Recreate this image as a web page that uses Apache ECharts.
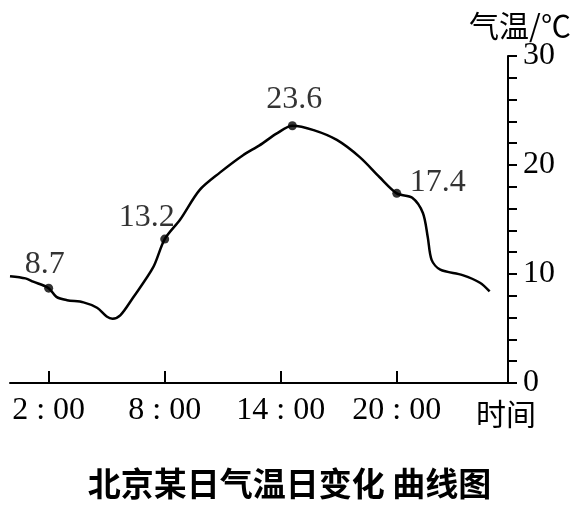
<!DOCTYPE html>
<html>
<head>
<meta charset="utf-8">
<script src="https://cdn.jsdelivr.net/npm/echarts@6/dist/echarts.min.js"></script>
<style>html,body{margin:0;padding:0;background:#fff;}#c{width:579px;height:505px;}</style>
</head>
<body>
<div id="c"></div>
<script>
// Curve trace (hour of day, temperature °C)
var curveHours = [0, 0.8, 1.2, 2, 2.4, 2.95, 3.8, 4.5, 5.0, 5.3, 5.7, 6.35, 7.4, 8, 8.8, 9.8, 10.85, 12.05, 12.9, 13.8, 14.6, 15.7, 16.9, 18.1, 19.1, 20, 20.8, 21.35, 21.6, 21.8, 22.25, 23.4, 24.3, 24.8];
var curveTemps = [9.8, 9.6, 9.3, 8.7, 7.9, 7.6, 7.4, 6.9, 6.1, 5.9, 6.2, 7.8, 10.6, 13.2, 15.0, 17.7, 19.3, 20.9, 21.8, 22.9, 23.6, 23.2, 22.3, 20.7, 18.9, 17.4, 17.0, 15.6, 13.4, 11.3, 10.4, 9.9, 9.2, 8.4];
// Labelled points
var markHours = [2, 8, 14.6, 20];
var markTemps = [8.7, 13.2, 23.6, 17.4];
// Axis ticks
var tickHours = [2, 8, 14, 20];
var tickLabels = ['2:00', '8:00', '14:00', '20:00'];
var tempTicks = [0, 10, 20, 30];

var labelOffsets = [[-4, -24], [-18, -22], [2, -26], [41, -11]];

var curveData = curveHours.map(function (h, i) { return [h, curveTemps[i]]; });
var markData = markHours.map(function (h, i) {
  return { value: [h, markTemps[i]], label: { offset: labelOffsets[i] } };
});

var serif = 'Liberation Serif, Times New Roman, serif';
var cjk = 'Noto Sans CJK SC, sans-serif';

var chart = echarts.init(document.getElementById('c'), null, { renderer: 'canvas' });
chart.setOption({
  animation: false,
  backgroundColor: '#fff',
  title: {
    text: '北京某日气温日变化 曲线图',
    left: 'center',
    top: 462,
    textStyle: { fontFamily: cjk, fontSize: 33, fontWeight: 'bold', color: '#000' }
  },
  grid: { left: 10, right: 71, top: 56, bottom: 122, containLabel: false, outerBoundsMode: 'none' },
  xAxis: {
    type: 'value',
    min: 0,
    max: 25.75,
    name: '时间',
    nameLocation: 'end',
    nameGap: -2,
    nameTextStyle: { fontFamily: cjk, fontSize: 30, color: '#000', align: 'center', verticalAlign: 'top', padding: [16, 0, 0, 0] },
    axisLine: { show: true, onZero: false, lineStyle: { color: '#000', width: 2 } },
    axisTick: { show: true, inside: true, length: 12, customValues: tickHours, lineStyle: { color: '#000', width: 2 } },
    axisLabel: {
      show: true,
      customValues: tickHours,
      margin: 12,
      fontFamily: serif,
      fontSize: 32,
      color: '#000',
      formatter: function (v) {
        var i = tickHours.indexOf(v);
        return i >= 0 ? tickLabels[i].replace(':', ' : ') : '';
      }
    },
    splitLine: { show: false }
  },
  yAxis: {
    type: 'value',
    position: 'right',
    min: 0,
    max: 30,
    interval: 10,
    name: '气温/℃',
    nameLocation: 'end',
    nameGap: 12,
    nameTextStyle: { fontFamily: cjk, fontSize: 30, color: '#000', padding: [0, 0, 0, 24] },
    axisLine: { show: true, onZero: false, lineStyle: { color: '#000', width: 2 } },
    axisTick: { show: true, inside: false, length: 9, lineStyle: { color: '#000', width: 2 } },
    minorTick: { show: true, splitNumber: 5, length: 9, lineStyle: { color: '#000', width: 2 } },
    axisLabel: {
      margin: 15,
      fontFamily: serif,
      fontSize: 32,
      color: '#000',
      formatter: function (v) { return tempTicks.indexOf(v) >= 0 ? String(v) : ''; }
    },
    splitLine: { show: false },
    minorSplitLine: { show: false }
  },
  series: [
    {
      type: 'line',
      data: curveData,
      smooth: 0.3,
      symbol: 'none',
      lineStyle: { color: '#000', width: 2.5 },
      z: 2
    },
    {
      type: 'scatter',
      data: markData,
      symbol: 'circle',
      symbolSize: 9,
      itemStyle: { color: '#000' },
      label: {
        show: true,
        position: 'inside',
        fontFamily: serif,
        fontSize: 32,
        color: '#000',
        textBorderWidth: 0,
        formatter: function (p) { return String(p.value[1]); }
      },
      z: 3
    }
  ]
});
</script>
</body>
</html>
